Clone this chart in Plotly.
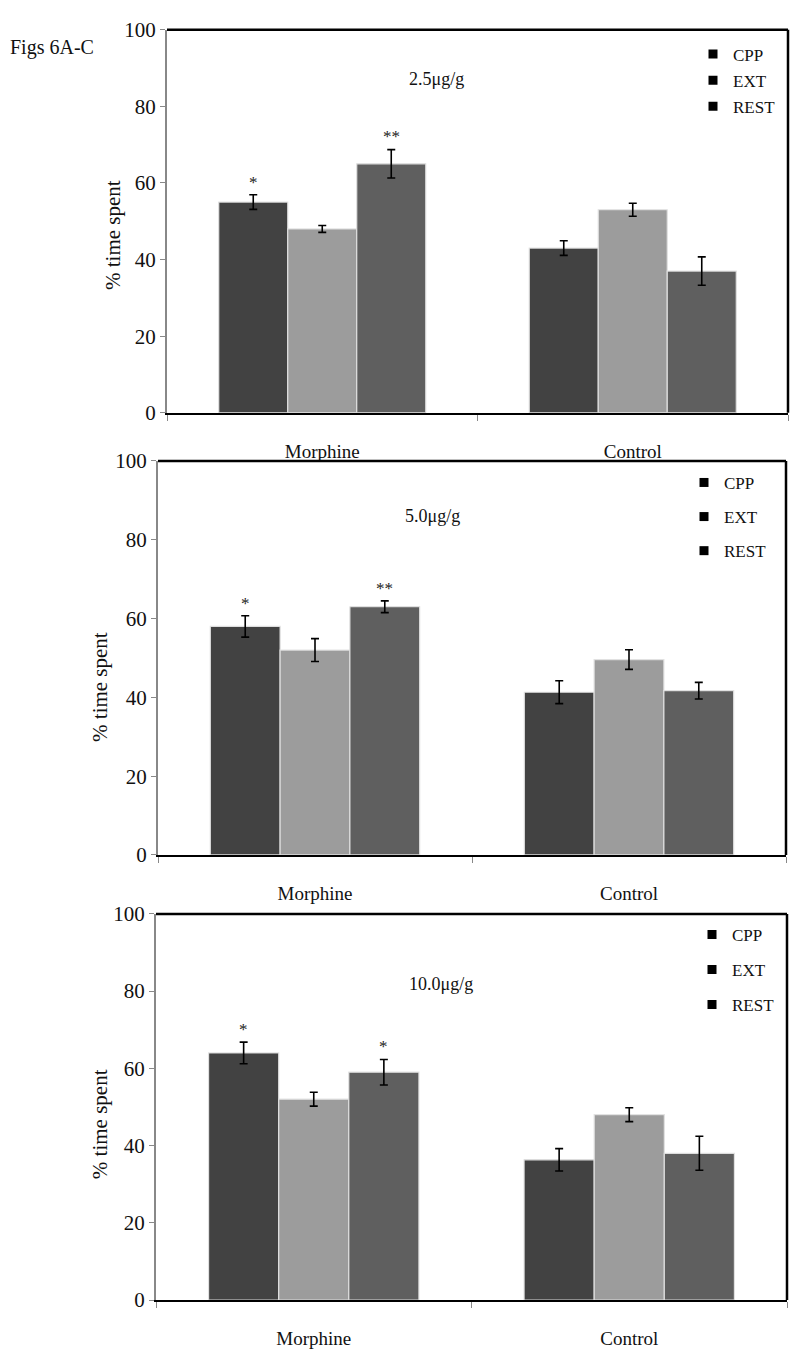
import plotly.graph_objects as go

categories = ["Morphine", "Control"]
series = ["CPP", "EXT", "REST"]
doses = ["2.5μg/g", "5.0μg/g", "10.0μg/g"]

# panel A: 2.5 µg/g
a_cpp = [55, 43]
a_ext = [48, 53]
a_rest = [65, 37]
a_cpp_err = [1.9, 1.9]
a_ext_err = [0.9, 1.7]
a_rest_err = [3.7, 3.7]
a_stars = ["*", "", "**"]

# panel B: 5.0 µg/g
b_cpp = [58, 41.3]
b_ext = [52, 49.6]
b_rest = [63, 41.7]
b_cpp_err = [2.7, 2.9]
b_ext_err = [2.9, 2.5]
b_rest_err = [1.5, 2.1]
b_stars = ["*", "", "**"]

# panel C: 10.0 µg/g
c_cpp = [64, 36.3]
c_ext = [52, 48]
c_rest = [59, 38]
c_cpp_err = [2.8, 2.9]
c_ext_err = [1.8, 1.8]
c_rest_err = [3.3, 4.4]
c_stars = ["*", "", "*"]

yticks = [0, 20, 40, 60, 80, 100]

panels = [
    ([a_cpp, a_ext, a_rest], [a_cpp_err, a_ext_err, a_rest_err], a_stars),
    ([b_cpp, b_ext, b_rest], [b_cpp_err, b_ext_err, b_rest_err], b_stars),
    ([c_cpp, c_ext, c_rest], [c_cpp_err, c_ext_err, c_rest_err], c_stars),
]

colors = ["#424242", "#9c9c9c", "#5f5f5f"]
FONT = "Liberation Serif"
W, H = 800, 1368

def px(x):
    return x / W

def py(y):
    return 1 - y / H

# layout geometry (pixels)
xdom = [(167, 788), (158, 786), (156, 787)]
ydom = [(18, 408), (457, 858), (918, 1311)]
legend_top = [25, 461, 921]
legend_gap = [1, 9, 10]
legend_x = [693, 684, 692]
dose_pos = [(436, 68), (432, 513), (441, 989)]
ytitle_pos = [(113, 227), (100, 687), (100, 1132)]

fig = go.Figure()
annotations = []
shapes = []

for p, (vals, errs, stars) in enumerate(panels):
    n = "" if p == 0 else str(p + 1)
    xa, ya = "x" + n, "y" + n
    lg = "legend" + n
    for s in range(3):
        fig.add_trace(go.Bar(
            x=categories, y=vals[s], name=series[s],
            xaxis=xa, yaxis=ya, showlegend=False,
            marker=dict(color=colors[s], line=dict(color="rgba(225,225,225,0.95)", width=1.2)),
            error_y=dict(type="data", array=errs[s], color="black", thickness=1.6, width=4),
            offsetgroup=str(s),
        ))
        # legend swatch (black squares as in the original)
        fig.add_trace(go.Scatter(
            x=[None], y=[None], name=series[s], mode="markers",
            xaxis=xa, yaxis=ya, legend=lg, legendgroup=f"{p}{s}",
            marker=dict(symbol="square", color="black", size=9),
        ))
        if stars[s]:
            annotations.append(dict(
                x=(s - 1) * 2 / 9, y=vals[s][0] + errs[s][0] + 0.3,
                xref=xa, yref=ya, text=stars[s], showarrow=False,
                xanchor="center", yanchor="bottom",
                font=dict(family=FONT, size=17, color="#222"),
            ))
    x0, x1 = xdom[p]
    y0, y1 = ydom[p]
    fig.layout["xaxis" + n] = dict(
        domain=[px(x0), px(x1)], anchor=ya, type="category",
        categoryorder="array", categoryarray=categories,
        range=[-0.5, 1.5], tickson="boundaries", ticks="outside", ticklen=6,
        tickcolor="#888", tickwidth=1.2, showline=True, linecolor="black", linewidth=2,
        layer="below traces", showgrid=False, ticklabelstandoff=20,
        tickfont=dict(family=FONT, size=19, color="#111"),
    )
    fig.layout["yaxis" + n] = dict(
        domain=[py(y1), py(y0)], anchor=xa, range=[0, 100],
        tickvals=yticks, ticks="outside", ticklen=5, tickcolor="#888", tickwidth=1.2,
        showline=True, linecolor="#888", linewidth=2, showgrid=False, zeroline=False,
        tickfont=dict(family=FONT, size=21, color="#111"),
    )
    fig.layout[lg] = dict(
        x=px(legend_x[p]), y=py(legend_top[p]), xanchor="left", yanchor="top",
        bgcolor="rgba(0,0,0,0)", tracegroupgap=legend_gap[p],
        font=dict(family=FONT, size=17, color="#111"), itemwidth=30,
    )
    # top and right frame lines
    shapes.append(dict(type="line", xref=xa + " domain", yref=ya + " domain",
                       x0=0, x1=1, y0=1, y1=1, line=dict(color="black", width=2.5)))
    shapes.append(dict(type="line", xref=xa + " domain", yref=ya + " domain",
                       x0=1, x1=1, y0=0, y1=1, line=dict(color="black", width=2.5)))
    dx, dy = dose_pos[p]
    annotations.append(dict(x=px(dx), y=py(dy), xref="paper", yref="paper",
                            xanchor="center", yanchor="middle",
                            text=doses[p], showarrow=False,
                            font=dict(family=FONT, size=18, color="#111")))
    tx, ty = ytitle_pos[p]
    annotations.append(dict(x=px(tx), y=py(ty), xref="paper", yref="paper",
                            xanchor="center", yanchor="middle",
                            text="% time spent", textangle=-90, showarrow=False,
                            font=dict(family=FONT, size=21, color="#111")))

annotations.append(dict(x=px(8), y=py(36), xref="paper", yref="paper",
                        xanchor="left", yanchor="middle",
                        text="Figs 6A-C", showarrow=False,
                        font=dict(family=FONT, size=20, color="#111")))

fig.update_layout(
    width=W, height=H, margin=dict(l=0, r=0, t=0, b=0),
    paper_bgcolor="white", plot_bgcolor="white",
    barmode="group", bargap=1/3, bargroupgap=0,
    annotations=annotations, shapes=shapes,
    font=dict(family=FONT, color="#111"),
)

fig.write_html(
    "out.html",
    config={"displayModeBar": False},
    post_script="document.body.style.margin='0';document.body.style.overflow='hidden';",
)
